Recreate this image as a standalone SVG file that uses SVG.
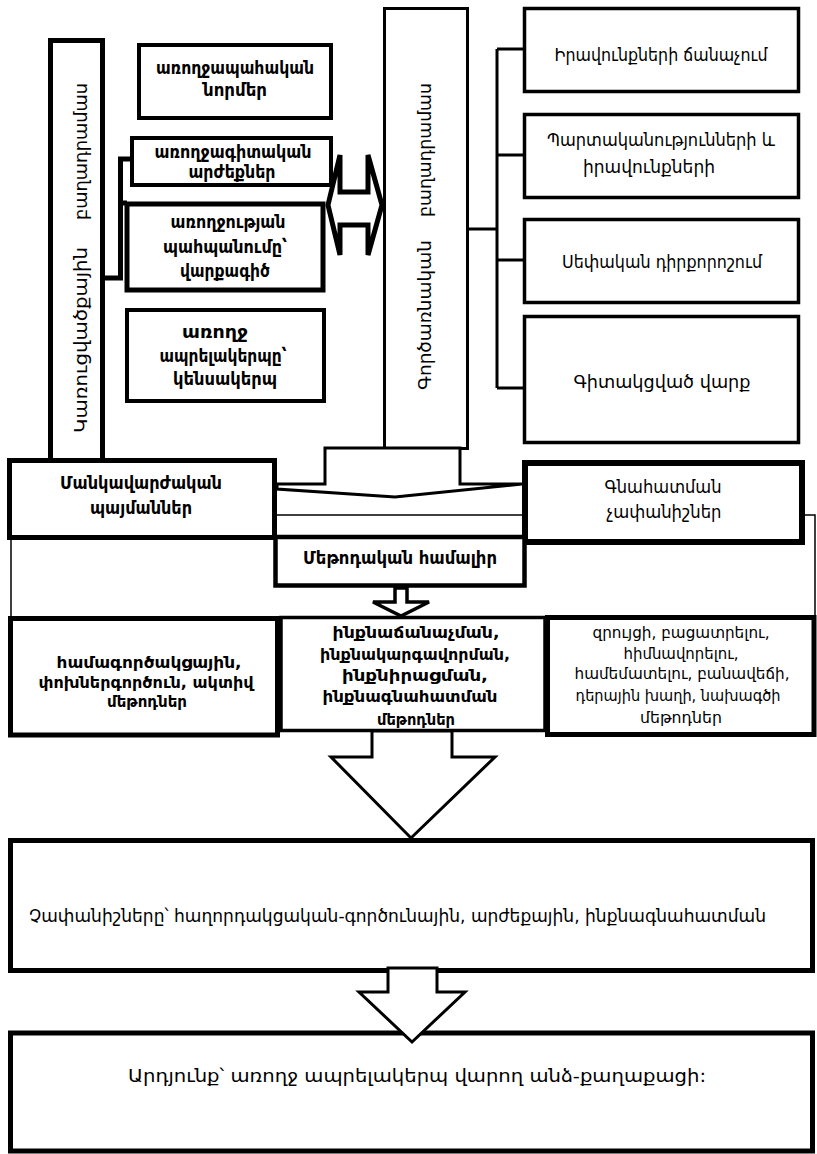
<svg xmlns="http://www.w3.org/2000/svg" width="817" height="1154" viewBox="0 0 817 1154">
<style>
text{font-family:"DejaVu Sans","Noto Sans",sans-serif;fill:#000;text-anchor:middle}
.b{font-weight:bold}
.box{fill:#fff;stroke:#000}
.ln{fill:none;stroke:#000}
</style>
<rect width="817" height="1154" fill="#fff"/>
<g id="connectors">
<path class="ln" stroke-width="5" d="M130,159 H120.5 V278 H104 M120.5,203 H127"/>
<path class="ln" stroke-width="3" d="M497,49 V388 M497,49 H524 M497,155 H524 M497,260 H524 M497,388 H524 M468,229 H497"/>
<path class="ln" stroke-width="1.5" d="M277,515 H522 M805,515 H815 V617 M11,538 V617"/>
<polygon class="box" stroke-width="5" stroke-linejoin="miter" points="328,205 340,155 340,192 368,192 368,155 382,205 368,255 368,225 340,225 340,255"/>
</g>
<g id="n-left-vertical">
<rect class="box" x="50.5" y="40.5" width="52" height="420" stroke-width="5"/>
<text font-size="18" transform="translate(87,340) rotate(-90)" textLength="186" lengthAdjust="spacingAndGlyphs">Կառուցվածքային</text>
<text font-size="18" transform="translate(87,151.5) rotate(-90)" textLength="137" lengthAdjust="spacingAndGlyphs">բաղադրամաս</text>
</g>
<g id="n-norms">
<rect class="box" x="139" y="45" width="192" height="73" stroke-width="4"/>
<text class="b" font-size="17" x="235" y="74" textLength="158" lengthAdjust="spacingAndGlyphs">առողջապահական</text>
<text class="b" font-size="17" x="235" y="96" textLength="64" lengthAdjust="spacingAndGlyphs">նորմեր</text>
</g>
<g id="n-values">
<rect class="box" x="132" y="138" width="199" height="47" stroke-width="4"/>
<text class="b" font-size="17" x="233" y="158" textLength="157" lengthAdjust="spacingAndGlyphs">առողջագիտական</text>
<text class="b" font-size="17" x="232" y="178" textLength="87" lengthAdjust="spacingAndGlyphs">արժեքներ</text>
</g>
<g id="n-health">
<rect class="box" x="127" y="204" width="196" height="86" stroke-width="5"/>
<text class="b" font-size="17" x="228" y="228" textLength="115" lengthAdjust="spacingAndGlyphs">առողջության</text>
<text class="b" font-size="17" x="225" y="253" textLength="124" lengthAdjust="spacingAndGlyphs">պահպանումը՝</text>
<text class="b" font-size="17" x="225" y="277" textLength="90" lengthAdjust="spacingAndGlyphs">վարքագիծ</text>
</g>
<g id="n-lifestyle">
<rect class="box" x="127" y="310" width="197" height="91" stroke-width="4"/>
<text class="b" font-size="17" x="215" y="338" textLength="66" lengthAdjust="spacingAndGlyphs">առողջ</text>
<text class="b" font-size="17" x="223" y="362" textLength="127" lengthAdjust="spacingAndGlyphs">ապրելակերպը՝</text>
<text class="b" font-size="17" x="225" y="385" textLength="104" lengthAdjust="spacingAndGlyphs">կենսակերպ</text>
</g>
<g id="n-right-vertical">
<rect class="box" x="384.5" y="8.5" width="83" height="440" stroke-width="3"/>
<text font-size="18" transform="translate(431,315) rotate(-90)" textLength="150" lengthAdjust="spacingAndGlyphs">Գործառնական</text>
<text font-size="18" transform="translate(431,150) rotate(-90)" textLength="134" lengthAdjust="spacingAndGlyphs">բաղադրամաս</text>
</g>
<g id="n-rights">
<rect class="box" x="524.5" y="8.5" width="274" height="83" stroke-width="3.5"/>
<text font-size="18" x="661" y="61" textLength="213" lengthAdjust="spacingAndGlyphs">Իրավունքների ճանաչում</text>
</g>
<g id="n-duties">
<rect class="box" x="524.5" y="114.5" width="274" height="83" stroke-width="3.5"/>
<text font-size="18" x="661" y="146" textLength="228" lengthAdjust="spacingAndGlyphs">Պարտականությունների և</text>
<text font-size="18" x="649" y="173" textLength="132" lengthAdjust="spacingAndGlyphs">իրավունքների</text>
</g>
<g id="n-position">
<rect class="box" x="524.5" y="219.5" width="274" height="83" stroke-width="3.5"/>
<text font-size="18" x="662" y="268" textLength="200" lengthAdjust="spacingAndGlyphs">Սեփական դիրքորոշում</text>
</g>
<g id="n-conscious">
<rect class="box" x="524.5" y="316.5" width="274" height="126" stroke-width="3.5"/>
<text font-size="18" x="662" y="388" textLength="177" lengthAdjust="spacingAndGlyphs">Գիտակցված վարք</text>
</g>
<g id="n-main-arrow">
<polygon class="box" stroke-width="3" stroke-linejoin="miter" points="325,448 460,448 460,484 522,484 395,497 277,489 277,484 325,484"/>
</g>
<g id="n-pedagogical">
<rect class="box" x="9.5" y="460.5" width="265" height="77" stroke-width="5"/>
<text class="b" font-size="17" x="141" y="489" textLength="162" lengthAdjust="spacingAndGlyphs">Մանկավարժական</text>
<text class="b" font-size="17" x="141" y="514" textLength="102" lengthAdjust="spacingAndGlyphs">պայմաններ</text>
</g>
<g id="n-assessment">
<rect class="box" x="525" y="463" width="277" height="79" stroke-width="6"/>
<text font-size="17" x="663" y="493" textLength="117" lengthAdjust="spacingAndGlyphs">Գնահատման</text>
<text font-size="17" x="664" y="518" textLength="115" lengthAdjust="spacingAndGlyphs">չափանիշներ</text>
</g>
<g id="n-method-complex">
<rect class="box" x="275.5" y="537" width="249" height="48.5" stroke-width="4.5"/>
<text class="b" font-size="17" x="400" y="564" textLength="194" lengthAdjust="spacingAndGlyphs">Մեթոդական համալիր</text>
</g>
<g id="n-small-arrow">
<polygon class="box" stroke-width="3.5" stroke-linejoin="miter" points="395,588 407,588 407,602 429,602 401,616 373,602 395,602"/>
</g>
<g id="n-methods-1">
<rect class="box" x="10.5" y="618.5" width="267" height="116.5" stroke-width="5"/>
<text class="b" font-size="16.5" x="149" y="668" textLength="185" lengthAdjust="spacingAndGlyphs">համագործակցային,</text>
<text class="b" font-size="16.5" x="146" y="688" textLength="215" lengthAdjust="spacingAndGlyphs">փոխներգործուն, ակտիվ</text>
<text class="b" font-size="16.5" x="147" y="707" textLength="80" lengthAdjust="spacingAndGlyphs">մեթոդներ</text>
</g>
<g id="n-methods-2">
<rect class="box" x="281" y="617.5" width="264" height="113" stroke-width="3.5"/>
<text class="b" font-size="16.5" x="416" y="638" textLength="167" lengthAdjust="spacingAndGlyphs">ինքնաճանաչման,</text>
<text class="b" font-size="16.5" x="415" y="660" textLength="190" lengthAdjust="spacingAndGlyphs">ինքնակարգավորման,</text>
<text class="b" font-size="16.5" x="415" y="681" textLength="146" lengthAdjust="spacingAndGlyphs">ինքնիրացման,</text>
<text class="b" font-size="16.5" x="410" y="702" textLength="175" lengthAdjust="spacingAndGlyphs">ինքնագնահատման</text>
<text class="b" font-size="16.5" x="416" y="725" textLength="78" lengthAdjust="spacingAndGlyphs">մեթոդներ</text>
</g>
<g id="n-methods-3">
<rect class="box" x="547.5" y="617.5" width="266.5" height="117" stroke-width="5"/>
<text font-size="16" x="681" y="638" textLength="177" lengthAdjust="spacingAndGlyphs">զրույցի, բացատրելու,</text>
<text font-size="16" x="681" y="659" textLength="115" lengthAdjust="spacingAndGlyphs">հիմնավորելու,</text>
<text font-size="16" x="682" y="679" textLength="215" lengthAdjust="spacingAndGlyphs">համեմատելու, բանավեճի,</text>
<text font-size="16" x="678" y="701" textLength="205" lengthAdjust="spacingAndGlyphs">դերային խաղի, նախագծի</text>
<text font-size="16" x="681" y="723" textLength="82" lengthAdjust="spacingAndGlyphs">մեթոդներ</text>
</g>
<g id="n-criteria">
<rect class="box" x="10.5" y="840.5" width="802" height="130" stroke-width="5"/>
<text font-size="17" x="397.5" y="922" textLength="737" lengthAdjust="spacingAndGlyphs">Չափանիշները՝ հաղորդակցական-գործունային, արժեքային, ինքնագնահատման</text>
</g>
<g id="n-result">
<rect class="box" x="10.5" y="1033" width="802" height="118" stroke-width="5"/>
<text font-size="18" x="417" y="1082" textLength="578" lengthAdjust="spacingAndGlyphs">Արդյունք՝ առողջ ապրելակերպ վարող անձ-քաղաքացի:</text>
</g>
<g id="arrows">
<polygon class="box" stroke-width="3" stroke-linejoin="miter" points="372,731 452,731 452,757 495,757 411,838 331,757 372,757"/>
<polygon class="box" stroke-width="3" stroke-linejoin="miter" points="388,968 437,968 437,992 465,992 412,1042 359,992 388,992"/>
</g>
</svg>
